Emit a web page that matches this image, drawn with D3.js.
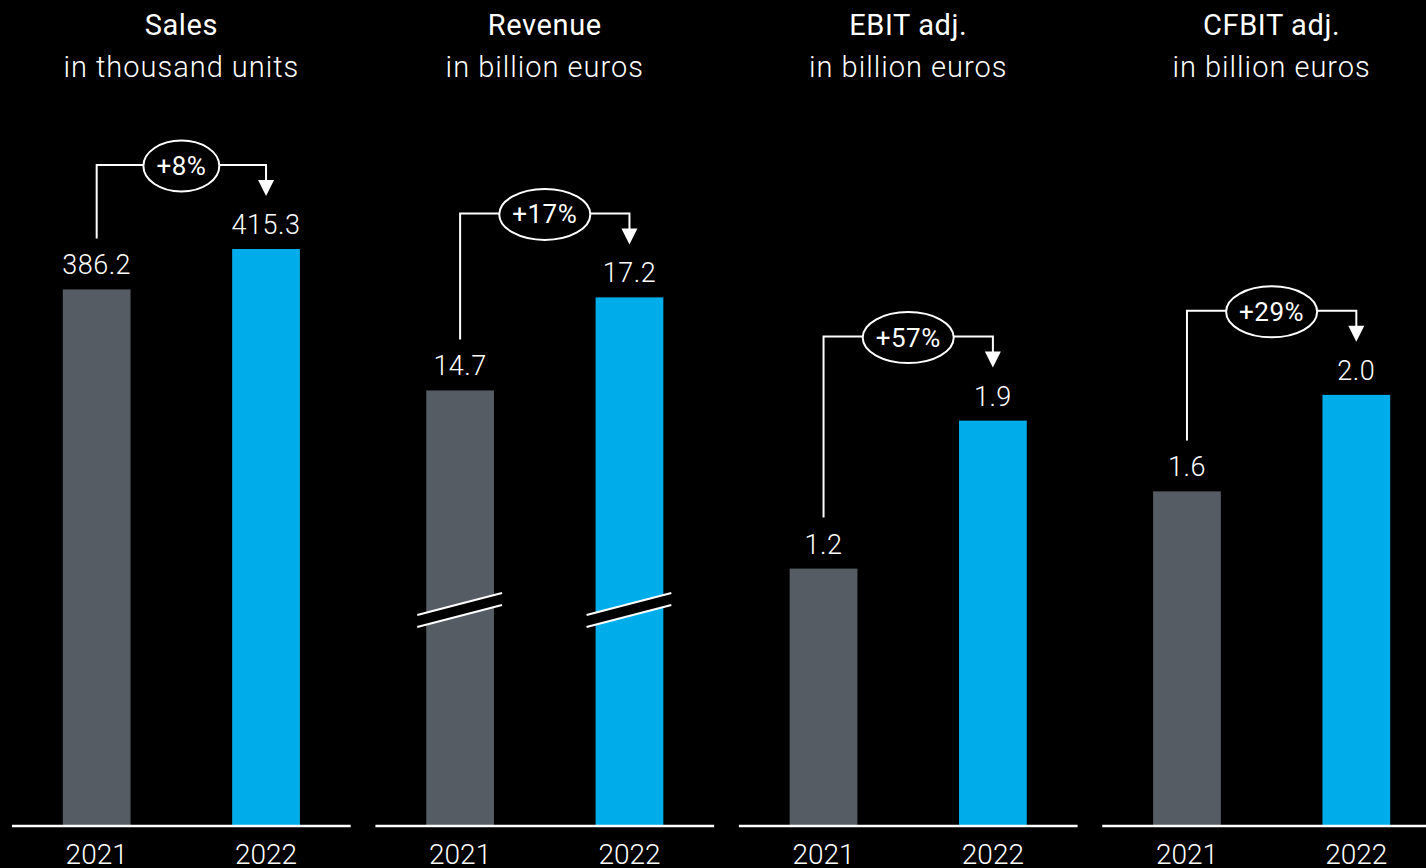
<!DOCTYPE html>
<html>
<head>
<meta charset="utf-8">
<script src="https://cdn.jsdelivr.net/npm/d3@7"></script>
<style>
    html, body { margin: 0; padding: 0; background: #000; }
    svg { display: block; font-family: Roboto, "Noto Sans", sans-serif; }
</style>
</head>
<body>
<svg width="1426" height="868"></svg>
<script>
(function() {

    "use strict";

    var titles = ["Sales", "Revenue", "EBIT adj.", "CFBIT adj."];
    var units = ["in thousand units", "in billion euros", "in billion euros", "in billion euros"];
    var years = ["2021", "2022"];
    var values2021 = [386.2, 14.7, 1.2, 1.56];
    var values2022 = [415.3, 17.2, 1.89, 2.01];
    var labels2021 = ["386.2", "14.7", "1.2", "1.6"];
    var labels2022 = ["415.3", "17.2", "1.9", "2.0"];
    var changes = ["+8%", "+17%", "+57%", "+29%"];
    // value axis per panel (revenue uses a broken axis)
    var axisMin = [0, 3, 0, 0];
    var axisMax = [415.3, 18.5, 2.69, 2.69];
    var breakAt = [null, 8.8, null, null];

    var colors = { "2021": "#565c63", "2022": "#00adeb" };

    var svg = d3.select("svg");
    var baseY = 826;
    var topY = 249;

    var panelX = d3.scaleBand()
        .domain(titles)
        .range([12, 1441])
        .paddingInner(0.068)
        .paddingOuter(0);

    var x = d3.scaleBand()
        .domain(years)
        .range([0, panelX.bandwidth()])
        .paddingInner(0.6)
        .paddingOuter(0.3);

    titles.forEach(function(title, i) {

        var g = svg.append("g")
            .attr("transform", "translate(" + panelX(title) + ",0)");

        var w = panelX.bandwidth();
        var y = d3.scaleLinear()
            .domain([axisMin[i], axisMax[i]])
            .range([baseY, topY]);

        var rows = [
            { year: years[0], value: values2021[i], label: labels2021[i] },
            { year: years[1], value: values2022[i], label: labels2022[i] }
        ];

        g.append("text")
            .attr("x", w / 2)
            .attr("y", 35)
            .attr("text-anchor", "middle")
            .style("fill", "#fff")
            .style("font-size", "29px")
            .style("font-weight", 400)
            .style("letter-spacing", "0.6px")
            .text(title);

        g.append("text")
            .attr("x", w / 2)
            .attr("y", 77)
            .attr("text-anchor", "middle")
            .style("fill", "#fff")
            .style("font-size", "29px")
            .style("font-weight", 300)
            .style("letter-spacing", "1px")
            .text(units[i]);

        g.selectAll(".bar")
            .data(rows)
            .enter().append("rect")
            .attr("class", "bar")
            .attr("x", function(d) { return x(d.year); })
            .attr("y", function(d) { return y(d.value); })
            .attr("width", x.bandwidth())
            .attr("height", function(d) { return baseY - y(d.value); })
            .style("fill", function(d) { return colors[d.year]; });

        g.selectAll(".value")
            .data(rows)
            .enter().append("text")
            .attr("class", "value")
            .attr("x", function(d) { return x(d.year) + x.bandwidth() / 2; })
            .attr("y", function(d) { return y(d.value) - 15; })
            .attr("text-anchor", "middle")
            .style("fill", "#fff")
            .style("font-size", "27px")
            .style("font-weight", 300)
            .style("letter-spacing", "0.5px")
            .text(function(d) { return d.label; });

        // broken axis marks
        if (breakAt[i] !== null) {
            var cy = y(breakAt[i]);
            rows.forEach(function(d) {
                var x0 = x(d.year) - 9;
                var x1 = x(d.year) + x.bandwidth() + 8;
                var rise = 11;
                g.append("path")
                    .attr("d", "M" + x0 + "," + (cy - 6 + rise) + "L" + x1 + "," + (cy - 6 - rise) +
                        "L" + x1 + "," + (cy + 6 - rise) + "L" + x0 + "," + (cy + 6 + rise) + "Z")
                    .style("fill", "#000");
                [-6, 6].forEach(function(off) {
                    g.append("line")
                        .attr("x1", x0).attr("y1", cy + off + rise)
                        .attr("x2", x1).attr("y2", cy + off - rise)
                        .style("stroke", "#fff")
                        .style("stroke-width", 2);
                });
            });
        }

        // baseline
        g.append("line")
            .attr("x1", 0).attr("x2", w)
            .attr("y1", baseY).attr("y2", baseY)
            .style("stroke", "#fff")
            .style("stroke-width", 2.5);

        g.selectAll(".year")
            .data(years)
            .enter().append("text")
            .attr("class", "year")
            .attr("x", function(d) { return x(d) + x.bandwidth() / 2; })
            .attr("y", 864)
            .attr("text-anchor", "middle")
            .style("fill", "#fff")
            .style("font-size", "28px")
            .style("font-weight", 300)
            .text(function(d) { return d; });

        // change bracket
        var leftX = x(years[0]) + x.bandwidth() / 2;
        var rightX = x(years[1]) + x.bandwidth() / 2;
        var bracketY = y(values2022[i]) - 84;
        var startY = y(values2021[i]) - 51;

        g.append("path")
            .attr("d", "M" + leftX + "," + startY + "V" + bracketY + "H" + rightX + "V" + (bracketY + 16))
            .style("fill", "none")
            .style("stroke", "#fff")
            .style("stroke-width", 2);

        g.append("path")
            .attr("d", "M" + (rightX - 8) + "," + (bracketY + 15) + "L" + (rightX + 8) + "," + (bracketY + 15) +
                "L" + rightX + "," + (bracketY + 31) + "Z")
            .style("fill", "#fff");

        var ellipse = g.append("ellipse")
            .attr("cx", w / 2)
            .attr("cy", bracketY + 1)
            .attr("ry", 25.5)
            .style("fill", "#000")
            .style("stroke", "#fff")
            .style("stroke-width", 2);

        var change = g.append("text")
            .attr("x", w / 2)
            .attr("y", bracketY + 10)
            .attr("text-anchor", "middle")
            .style("fill", "#fff")
            .style("font-size", "26px")
            .style("font-weight", 400)
            .style("letter-spacing", "0.5px")
            .text(changes[i]);

        ellipse.attr("rx", change.node().getComputedTextLength() / 2 + 13);
    });

}());
</script>
</body>
</html>
